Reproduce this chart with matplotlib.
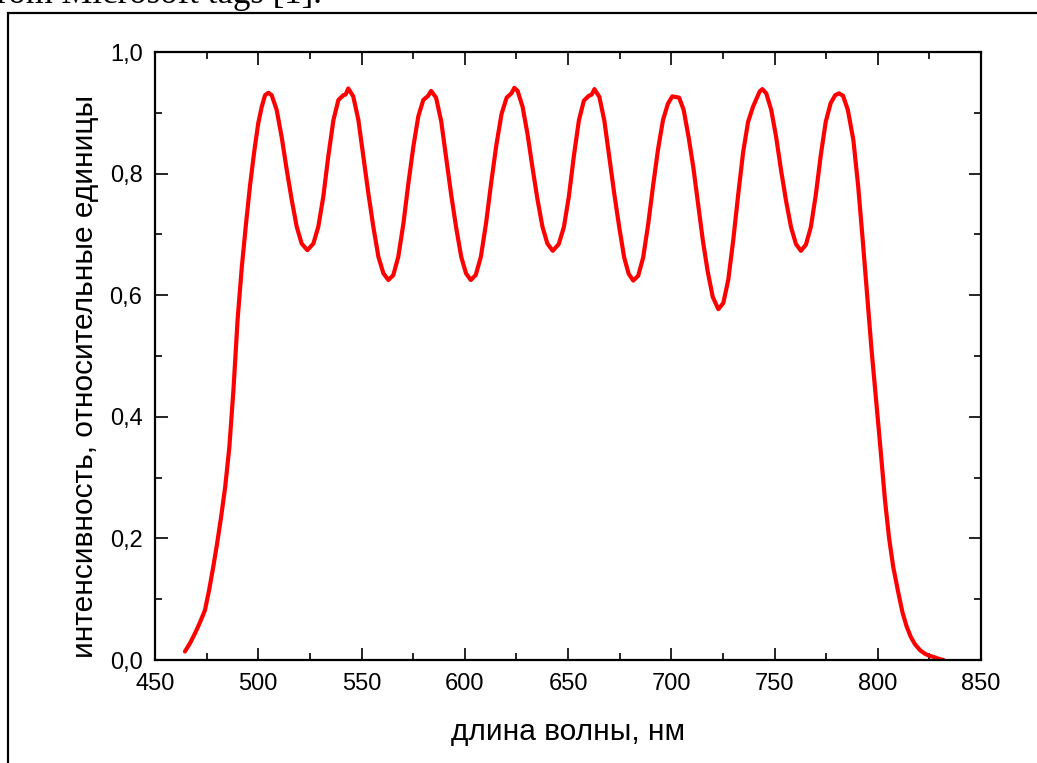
import matplotlib
matplotlib.use("Agg")
import matplotlib.pyplot as plt
from matplotlib.patches import Rectangle
from matplotlib.ticker import MultipleLocator, FixedLocator

# ---- data ----
wavelength = [
    464.5, 467.0, 469.4, 471.8, 474.2, 476.2, 478.2, 480.0, 482.0, 484.0, 486.0, 488.0,
    490.0, 492.0, 494.0, 496.0, 498.0, 500.0, 501.7, 503.3, 504.9,
    506.5, 508.9, 511.3, 513.8, 516.2, 518.6, 521.0, 523.8,
    526.7, 529.1, 531.5, 533.9, 536.4, 538.8, 541.2, 542.3, 543.6,
    546.0, 548.5, 550.9, 553.3, 555.7, 558.2, 560.6, 563.0,
    565.4, 567.8, 570.3, 572.7, 575.1, 577.5, 579.9, 582.3, 583.7,
    586.1, 588.6, 591.0, 593.4, 595.8, 598.3, 600.6, 602.9,
    605.3, 607.8, 610.3, 612.8, 615.3, 617.8, 620.3, 622.6, 624.0,
    625.6, 628.0, 630.4, 632.8, 635.2, 637.6, 640.0, 642.6,
    645.5, 648.0, 650.4, 652.8, 655.3, 657.7, 660.1, 661.5, 662.8,
    665.2, 667.6, 670.0, 672.4, 674.8, 677.2, 679.4, 681.6,
    684.0, 686.4, 688.8, 691.2, 693.6, 696.0, 698.4, 700.5, 702.2, 703.8,
    706.0, 708.4, 710.7, 713.0, 715.3, 717.6, 720.1, 722.8,
    725.2, 727.6, 730.0, 732.4, 734.8, 737.2, 739.6, 741.5, 742.8, 744.1,
    746.0, 748.4, 750.8, 753.2, 755.6, 758.0, 760.4, 762.8,
    765.2, 767.6, 770.0, 772.4, 774.8, 777.2, 779.4, 781.2,
    783.2, 785.5, 788.2, 790.5, 792.5, 794.5, 797.0, 799.0, 801.0, 803.5,
    805.5, 807.5, 810.0, 812.0, 814.0, 816.0, 818.0, 820.5, 823.0, 825.0,
    827.0, 829.5, 831.8,
]
intensity = [
    0.014, 0.028, 0.044, 0.062, 0.082, 0.115, 0.153, 0.190, 0.235, 0.285, 0.350, 0.445,
    0.560, 0.645, 0.715, 0.780, 0.835, 0.883, 0.910, 0.929, 0.933,
    0.929, 0.905, 0.861, 0.806, 0.757, 0.713, 0.685, 0.674,
    0.685, 0.713, 0.762, 0.828, 0.888, 0.921, 0.929, 0.930, 0.940,
    0.927, 0.888, 0.828, 0.768, 0.713, 0.663, 0.636, 0.625,
    0.633, 0.663, 0.718, 0.784, 0.844, 0.894, 0.921, 0.928, 0.936,
    0.925, 0.886, 0.826, 0.766, 0.712, 0.663, 0.636, 0.625,
    0.633, 0.663, 0.718, 0.785, 0.847, 0.898, 0.925, 0.932, 0.941,
    0.936, 0.910, 0.865, 0.810, 0.758, 0.713, 0.685, 0.673,
    0.684, 0.712, 0.762, 0.828, 0.888, 0.920, 0.928, 0.930, 0.939,
    0.926, 0.887, 0.827, 0.767, 0.712, 0.662, 0.635, 0.624,
    0.632, 0.662, 0.716, 0.780, 0.840, 0.888, 0.915, 0.927, 0.926, 0.925,
    0.905, 0.860, 0.810, 0.750, 0.690, 0.640, 0.597, 0.577,
    0.587, 0.625, 0.690, 0.765, 0.835, 0.885, 0.910, 0.925, 0.935, 0.939,
    0.932, 0.905, 0.860, 0.805, 0.755, 0.712, 0.684, 0.673,
    0.683, 0.712, 0.765, 0.830, 0.885, 0.916, 0.929, 0.932,
    0.928, 0.905, 0.855, 0.780, 0.700, 0.615, 0.510, 0.435, 0.360, 0.263,
    0.200, 0.153, 0.110, 0.078, 0.055, 0.038, 0.026, 0.016, 0.010, 0.007,
    0.005, 0.002, 0.000,
]
x_ticks = [450, 500, 550, 600, 650, 700, 750, 800, 850]
x_ticklabels = ['450', '500', '550', '600', '650', '700', '750', '800', '850']
y_ticks = [0.0, 0.2, 0.4, 0.6, 0.8, 1.0]
y_ticklabels = ['0,0', '0,2', '0,4', '0,6', '0,8', '1,0']
x_label = 'длина волны, нм'
y_label = 'интенсивность, относительные единицы'
caption_fragment = 'from Microsoft tags [1].'

plt.rcParams['font.family'] = ['Liberation Sans', 'DejaVu Sans']

W, H = 1037, 763
fig = plt.figure(figsize=(W / 100, H / 100), dpi=100)

# outer frame (document box) and the caption line above it, cut by the page edge
fig.patches.append(Rectangle((8 / W, -0.1), 1.2, (763 - 13) / H + 0.1,
                             transform=fig.transFigure, fill=False,
                             edgecolor='black', linewidth=1.6))
fig.text(322 / W, (763 - 3) / H, caption_fragment, ha='right', va='baseline',
         family='Liberation Serif', fontsize=25, color='black')

ax = fig.add_axes([155 / W, (763 - 660) / H, (981 - 155) / W, (660 - 52) / H])
ax.plot(wavelength, intensity, color='#ff0000', linewidth=3.0, solid_capstyle='round')

ax.set_xlim(450, 850)
ax.set_ylim(0, 1.0)
ax.xaxis.set_major_locator(FixedLocator(x_ticks))
ax.set_xticklabels(x_ticklabels)
ax.yaxis.set_major_locator(FixedLocator(y_ticks))
ax.set_yticklabels(y_ticklabels)
ax.xaxis.set_minor_locator(MultipleLocator(25))
ax.yaxis.set_minor_locator(MultipleLocator(0.1))

ax.tick_params(which='both', direction='in', top=True, right=True,
               labeltop=False, labelright=False, width=1.2, colors='black')
ax.tick_params(which='major', length=9, labelsize=17)
ax.tick_params(axis='x', which='major', pad=9)
ax.tick_params(axis='y', which='major', pad=9)
ax.tick_params(which='minor', length=5)
for s in ax.spines.values():
    s.set_linewidth(1.6)

ax.set_xlabel(x_label, fontsize=21.5, labelpad=17)
ax.set_ylabel(y_label, fontsize=21.5, labelpad=8)
ax.yaxis.label.set_y(0.467)

fig.savefig('out.png', dpi=100)
